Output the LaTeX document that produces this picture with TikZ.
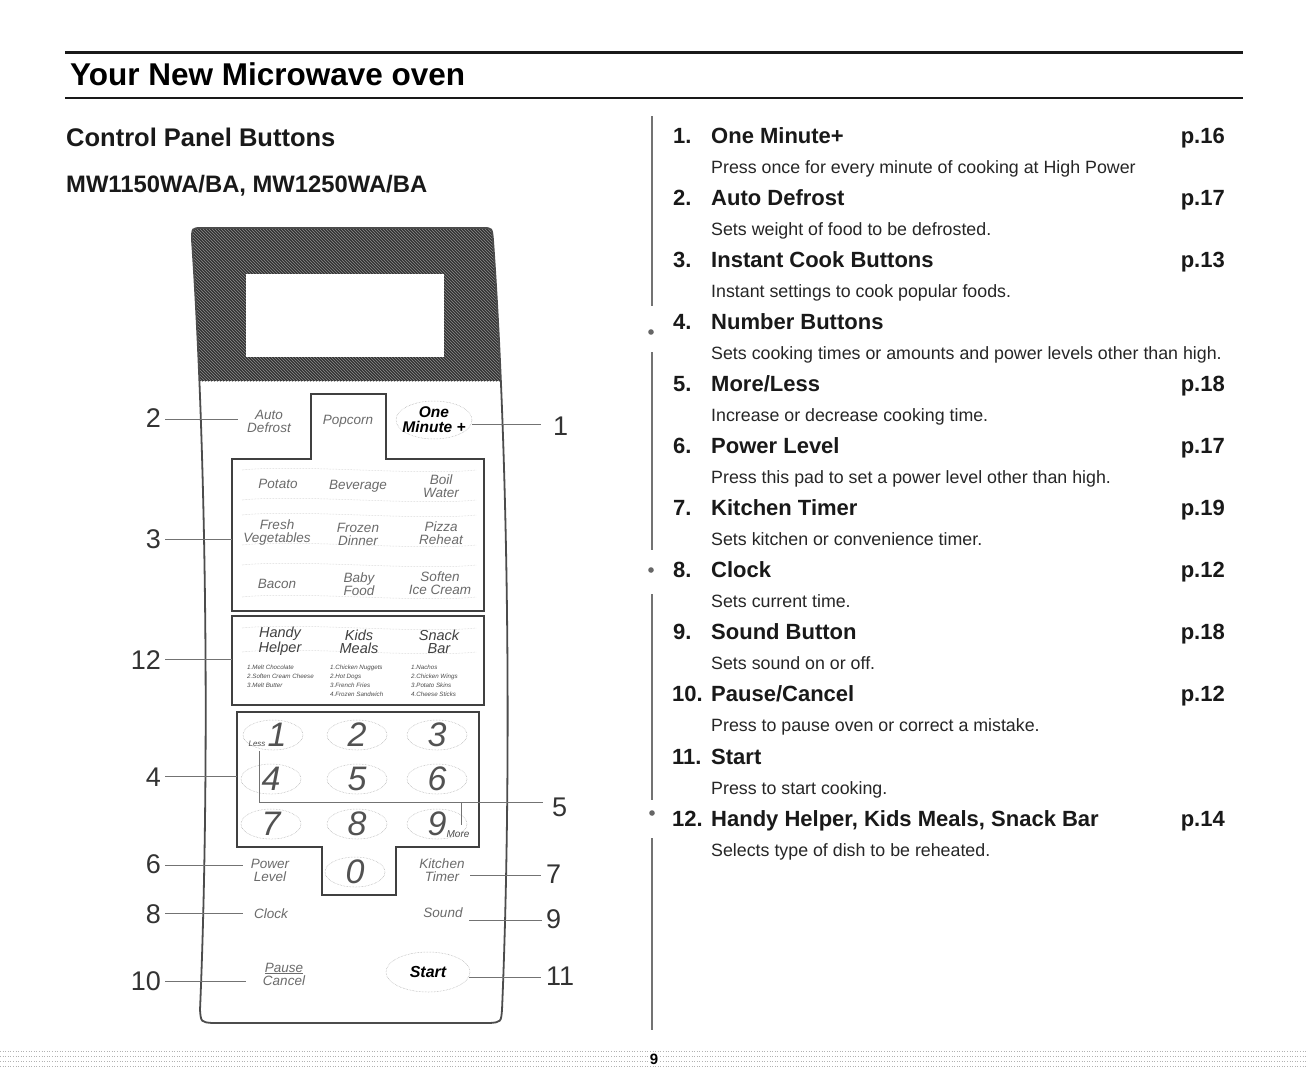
\documentclass[tikz,border=0pt]{standalone}
\usepackage{fontspec}
\setmainfont{Liberation Sans}
\usetikzlibrary{patterns}
\newcommand\myfs[2]{\fontsize{#1}{#2}\selectfont}
\tikzset{
  ttl/.style={anchor=base west,inner sep=0,font=\myfs{22}{26}\bfseries,text=black!90},
  ttlnum/.style={anchor=base west,inner sep=0,font=\myfs{22}{26}\bfseries,text=black!90},
  pg/.style={anchor=base east,inner sep=0,font=\myfs{22}{26}\bfseries,text=black!90},
  dsc/.style={anchor=base west,inner sep=0,font=\myfs{17.8}{20},text=black!85},
  callL/.style={anchor=base east,inner sep=0,font=\myfs{27}{30},text=black!80},
  callR/.style={anchor=base west,inner sep=0,font=\myfs{27}{30},text=black!80},
  leader/.style={draw=black!55,line width=0.7pt},
  btn/.style={inner sep=0,align=center,font=\myfs{13.5}{13}\itshape,text=black!58},
  btnb/.style={inner sep=0,align=center,font=\myfs{15.5}{15}\itshape\bfseries,text=black},
  hh/.style={inner sep=0,align=center,font=\myfs{14.5}{13}\itshape,text=black!75},
  lst/.style={inner sep=0,anchor=north west,align=left,font=\myfs{6.2}{9}\itshape,text=black!70},
  dig/.style={inner sep=0,font=\myfs{34}{34}\itshape,text=black!68},
  tex/.style={draw=black!35,densely dotted,line width=0.5pt},
  boxline/.style={draw=black!75,line width=1.2pt},
}
\begin{document}
\begin{tikzpicture}[x=1pt,y=-1pt]
\useasboundingbox (0,0) rectangle (1308,1076);
\fill[white] (0,0) rectangle (1308,1076);
% header rules and headings
\draw[line width=3pt,black!90] (65,52) -- (1243,52);
\draw[line width=2.4pt,black!90] (65,98) -- (1243,98);
\node[anchor=base west,inner sep=0,font=\myfs{31.5}{34}\bfseries] (title) at (70,85) {Your New Microwave oven};
\node[anchor=base west,inner sep=0,font=\myfs{25.5}{28}\bfseries,text=black!90] (cpb) at (66,146) {Control Panel Buttons};
\node[anchor=base west,inner sep=0,font=\myfs{23.8}{26}\bfseries,text=black!90] (models) at (66,192.5) {MW1150WA/BA, MW1250WA/BA};

% panel
\def\panelpath{(202,228) -- (483,228) .. controls (492,228) .. (493,240) .. controls (510,480) and (511,800) .. (502,1010) .. controls (501,1022) .. (490,1023) -- (212,1023) .. controls (201,1022) .. (200,1010) .. controls (209,800) and (208,480) .. (192,240) .. controls (192,228) .. (202,228) -- cycle}
\begin{scope}
  \clip \panelpath;
  \fill[black!80] (150,220) rectangle (560,381);
  \fill[pattern=north west lines,pattern color=black!45] (150,220) rectangle (560,381);
\end{scope}
\draw[draw=black!70,line width=1.8pt] \panelpath;
\fill[white] (246,274) rectangle (444,357);

% textures
\draw[tex] (434,420) ellipse (38 and 19);
\draw[tex] (428,972) ellipse (42 and 20);
\foreach \xx/\yy in {273/735,357/735,437/735,271/779,357/779,437/779,271/824,357/824,437/824,355/872}
  \draw[tex] (\xx,\yy) ellipse (30 and 15);
\foreach \yy in {470,500,515,545,565,597}
  \draw[black!22,densely dotted,line width=0.5pt] (242,\yy) .. controls (300,\yy-6) and (420,\yy+6) .. (476,\yy);
\foreach \yy in {628,652}
  \draw[black!22,densely dotted,line width=0.5pt] (242,\yy) .. controls (300,\yy-6) and (420,\yy+6) .. (476,\yy);

% button boxes
\draw[boxline] (232,459) -- (311,459) -- (311,394) -- (386,394) -- (386,459) -- (484,459) -- (484,611) -- (232,611) -- cycle;
\draw[boxline] (232,616) rectangle (484,705);
\draw[boxline] (237,712) -- (479,712) -- (479,847) -- (396,847) -- (396,895) -- (322,895) -- (322,847) -- (237,847) -- cycle;

% button labels
\node[btn] (autodef) at (269,421) {Auto\\Defrost};
\node[btn] (popcorn) at (348,421) {Popcorn};
\node[btnb] (onemin) at (434,420) {One\\Minute +};
\node[btn] (potato) at (278,484) {Potato};
\node[btn] (beverage) at (358,486) {Beverage};
\node[btn] (boil) at (441,486) {Boil\\Water};
\node[btn] (fresh) at (277,533) {Fresh\\Vegetables};
\node[btn] (frozen) at (358,534) {Frozen\\Dinner};
\node[btn] (pizza) at (441,533) {Pizza\\Reheat};
\node[btn] (bacon) at (277,584) {Bacon};
\node[btn] (baby) at (359,584) {Baby\\Food};
\node[btn] (soften) at (440,583) {Soften\\Ice Cream};
\node[hh] (handy) at (280,641) {Handy\\Helper};
\node[hh] (kids) at (359,642) {Kids\\Meals};
\node[hh] (snack) at (439,642) {Snack\\Bar};
\node[lst] (lst1) at (247,665) {1.Melt Chocolate\\2.Soften Cream Cheese\\3.Melt Butter};
\node[lst] (lst2) at (330,665) {1.Chicken Nuggets\\2.Hot Dogs\\3.French Fries\\4.Frozen Sandwich};
\node[lst] (lst3) at (411,665) {1.Nachos\\2.Chicken Wings\\3.Potato Skins\\4.Cheese Sticks};
\node[dig] (d1) at (277,735) {1};
\node[dig] (d2) at (357,735) {2};
\node[dig] (d3) at (437,735) {3};
\node[dig] (d4) at (271,779) {4};
\node[dig] (d5) at (357,779) {5};
\node[dig] (d6) at (437,779) {6};
\node[dig] (d7) at (271,824) {7};
\node[dig] (d8) at (357,824) {8};
\node[dig] (d9) at (437,824) {9};
\node[dig] (d0) at (355,872) {0};
\node[inner sep=0,font=\myfs{8}{8}\itshape,text=black!70] (less) at (257,744) {Less};
\node[inner sep=0,font=\myfs{10}{10}\itshape,text=black!70] (more) at (458,834) {More};
\node[btn] (power) at (270,870) {Power\\Level};
\node[btn] (kitchen) at (442,870) {Kitchen\\Timer};
\node[btn] (clock) at (271,914) {Clock};
\node[btn] (sound) at (443,913) {Sound};
\node[btn] (pause) at (284,974) {\underline{Pause}\\Cancel};
\node[btnb,font=\myfs{16}{16}\itshape\bfseries] (start) at (428,972) {Start};

% callout numbers
\node[callL] (n2) at (161,427) {2};
\node[callL] (n3) at (161,548) {3};
\node[callL] (n12) at (161,669) {12};
\node[callL] (n4) at (161,786) {4};
\node[callL] (n6) at (161,873) {6};
\node[callL] (n8) at (161,923) {8};
\node[callL] (n10) at (161,990) {10};
\node[callR] (n1) at (553,435) {1};
\node[callR] (n5) at (552,816) {5};
\node[callR] (n7) at (546,883) {7};
\node[callR] (n9) at (546,928) {9};
\node[callR] (n11) at (546,985) {11};

% leader end points
\coordinate (a1) at (472,424); \coordinate (b1) at (541,424);
\coordinate (a2) at (165,419); \coordinate (b2) at (238,419);
\coordinate (a3) at (165,539); \coordinate (b3) at (232,539);
\coordinate (a12) at (165,659); \coordinate (b12) at (232,659);
\coordinate (a4) at (165,776); \coordinate (b4) at (237,776);
\coordinate (a6) at (165,865); \coordinate (b6) at (243,865);
\coordinate (a7) at (470,875); \coordinate (b7) at (541,875);
\coordinate (a8) at (165,913); \coordinate (b8) at (243,913);
\coordinate (a9) at (469,920); \coordinate (b9) at (542,920);
\coordinate (a10) at (165,981); \coordinate (b10) at (246,981);
\coordinate (a11) at (469,977); \coordinate (b11) at (541,977);
\coordinate (m1) at (259,751); \coordinate (m2) at (259,802); \coordinate (m3) at (543,802);
\coordinate (m4) at (461,802); \coordinate (m5) at (461,825);
\foreach \k in {1,2,3,12,4,6,7,8,9,10,11}
  \draw[leader] (a\k) -- (b\k);
\draw[leader] (m1) -- (m2) -- (m3);
\draw[leader] (m4) -- (m5);

% right column divider
\draw[black!55,line width=1.8pt] (652,116) -- (652,306);
\draw[black!55,line width=1.8pt] (652,352) -- (652,550);
\draw[black!55,line width=1.8pt] (652,594) -- (652,800);
\draw[black!55,line width=1.8pt] (652,838) -- (652,1030);
\fill[black!60] (651,332) circle (2.8);
\fill[black!60] (651,570) circle (2.8);
\fill[black!60] (652,813) circle (2.8);

% right list
\node[ttlnum] (i1) at (673,143) {1.};   \node[ttl] (t1) at (711,143) {One Minute+};  \node[pg] (p1) at (1225,143) {p.16};
\node[dsc] (s1) at (711,173) {Press once for every minute of cooking at High Power};
\node[ttlnum] (i2) at (673,205.1) {2.}; \node[ttl] (t2) at (711,205.1) {Auto Defrost}; \node[pg] (p2) at (1225,205.1) {p.17};
\node[dsc] (s2) at (711,235.1) {Sets weight of food to be defrosted.};
\node[ttlnum] (i3) at (673,267.2) {3.}; \node[ttl] (t3) at (711,267.2) {Instant Cook Buttons}; \node[pg] (p3) at (1225,267.2) {p.13};
\node[dsc] (s3) at (711,297.2) {Instant settings to cook popular foods.};
\node[ttlnum] (i4) at (673,329.3) {4.}; \node[ttl] (t4) at (711,329.3) {Number Buttons};
\node[dsc] (s4) at (711,359.3) {Sets cooking times or amounts and power levels other than high.};
\node[ttlnum] (i5) at (673,391.4) {5.}; \node[ttl] (t5) at (711,391.4) {More/Less}; \node[pg] (p5) at (1225,391.4) {p.18};
\node[dsc] (s5) at (711,421.4) {Increase or decrease cooking time.};
\node[ttlnum] (i6) at (673,453.5) {6.}; \node[ttl] (t6) at (711,453.5) {Power Level}; \node[pg] (p6) at (1225,453.5) {p.17};
\node[dsc] (s6) at (711,483.5) {Press this pad to set a power level other than high.};
\node[ttlnum] (i7) at (673,515.6) {7.}; \node[ttl] (t7) at (711,515.6) {Kitchen Timer}; \node[pg] (p7) at (1225,515.6) {p.19};
\node[dsc] (s7) at (711,545.6) {Sets kitchen or convenience timer.};
\node[ttlnum] (i8) at (673,577.7) {8.}; \node[ttl] (t8) at (711,577.7) {Clock}; \node[pg] (p8) at (1225,577.7) {p.12};
\node[dsc] (s8) at (711,607.7) {Sets current time.};
\node[ttlnum] (i9) at (673,639.8) {9.}; \node[ttl] (t9) at (711,639.8) {Sound Button}; \node[pg] (p9) at (1225,639.8) {p.18};
\node[dsc] (s9) at (711,669.8) {Sets sound on or off.};
\node[ttlnum] (i10) at (672,701.9) {10.}; \node[ttl] (t10) at (711,701.9) {Pause/Cancel}; \node[pg] (p10) at (1225,701.9) {p.12};
\node[dsc] (s10) at (711,731.9) {Press to pause oven or correct a mistake.};
\node[ttlnum] (i11) at (672,764) {11.}; \node[ttl] (t11) at (711,764) {Start};
\node[dsc] (s11) at (711,794) {Press to start cooking.};
\node[ttlnum] (i12) at (672,826.1) {12.}; \node[ttl] (t12) at (711,826.1) {Handy Helper, Kids Meals, Snack Bar}; \node[pg] (p12) at (1225,826.1) {p.14};
\node[dsc] (s12) at (711,856.1) {Selects type of dish to be reheated.};

% bottom dotted band and page number
\foreach \yy in {1051,1056,1061,1066}
  \draw[black!30,dotted,line width=0.6pt] (0,\yy) -- (1308,\yy);
\node[inner sep=1pt,fill=white,font=\myfs{15}{15}\bfseries] (pgno) at (654,1059) {9};
\end{tikzpicture}
\end{document}
